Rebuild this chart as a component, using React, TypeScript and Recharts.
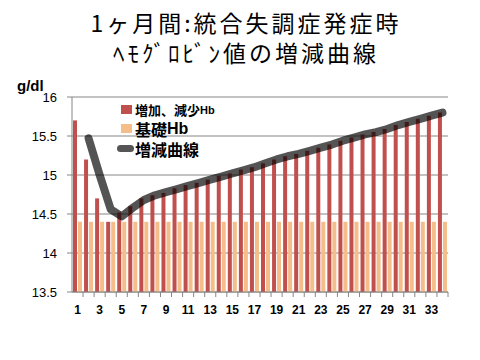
import { Bar, CartesianGrid, ComposedChart, Legend, Line, XAxis, YAxis } from 'recharts';

const days = Array.from({ length: 34 }, (_, i) => String(i + 1));

// 増加、減少Hb
const changeHb = [
  15.7, 15.2, 14.7, 14.4, 14.52, 14.6, 14.7, 14.74, 14.77, 14.83, 14.87, 14.9, 14.94, 14.99, 15.02, 15.07, 15.1,
  15.15, 15.2, 15.24, 15.27, 15.31, 15.35, 15.39, 15.44, 15.48, 15.52, 15.55, 15.59, 15.64, 15.68, 15.72, 15.76, 15.8,
];

// 基礎Hb
const baseHb = days.map(() => 14.4);

// 増減曲線
const curve: Array<number | null> = [
  null, 15.47, 15.0, 14.56, 14.47, 14.58, 14.68, 14.74, 14.78, 14.82, 14.86, 14.9, 14.94, 14.98, 15.02, 15.06, 15.1,
  15.15, 15.2, 15.24, 15.27, 15.31, 15.35, 15.39, 15.44, 15.48, 15.52, 15.55, 15.59, 15.64, 15.68, 15.72, 15.76, 15.8,
];

const yTicks = [13.5, 14, 14.5, 15, 15.5, 16];

const data = days.map((day, i) => ({ day, change: changeHb[i], base: baseHb[i], curve: curve[i] }));

const W = 480;
const H = 360;
const X_H = 30;
const M = { top: 97, right: 32, bottom: 68 - X_H, left: 0 };
const Y_W = 72;
const STEP = (W - M.right - M.left - Y_W) / days.length;

const RED = '#C0504D';
const ORANGE = '#F5BD8A';
const GRID = '#868686';
const CJK = '"Noto Sans CJK JP", sans-serif';
const LATIN = '"Liberation Sans", Arial, sans-serif';

const DayTick = (props: any) => {
  const { x, y, payload, index } = props;
  return (
    <g>
      <line x1={x + STEP / 2} x2={x + STEP / 2} y1={y} y2={y + 5} stroke={GRID} />
      {index % 2 === 0 && (
        <text x={x} y={y + 22} textAnchor="middle" fontSize={12} fontWeight="bold" fontFamily={LATIN} fill="#000">
          {payload.value}
        </text>
      )}
    </g>
  );
};

const LegendBox = () => (
  <div style={{ fontFamily: CJK, fontWeight: 'bold', color: '#000', lineHeight: 1, textAlign: 'left' }}>
    <div style={{ display: 'flex', alignItems: 'center', height: 14 }}>
      <span style={{ width: 11, height: 9, background: RED, marginLeft: 4, marginRight: 3 }} />
      <span style={{ fontSize: 13 }}>増加、減少</span>
      <span style={{ fontSize: 11, fontFamily: LATIN, marginTop: 3 }}>Hb</span>
    </div>
    <div style={{ display: 'flex', alignItems: 'center', height: 17, marginTop: 4 }}>
      <span style={{ width: 11, height: 9, background: ORANGE, marginLeft: 4, marginRight: 3 }} />
      <span style={{ fontSize: 16 }}>基礎</span>
      <span style={{ fontSize: 16, fontFamily: LATIN }}>Hb</span>
    </div>
    <div style={{ display: 'flex', alignItems: 'center', height: 17, marginTop: 3 }}>
      <span style={{ width: 17, height: 7, borderRadius: 4, background: '#555', marginRight: 1 }} />
      <span style={{ fontSize: 16 }}>増減曲線</span>
    </div>
  </div>
);

export default function App() {
  return (
    <div style={{ position: 'absolute', left: 0, top: 0, width: W, height: H, background: '#fff' }}>
      <div
        style={{
          position: 'absolute',
          left: 0,
          top: 7,
          width: W,
          paddingLeft: 12,
          boxSizing: 'border-box',
          textAlign: 'center',
          fontFamily: CJK,
          fontSize: 23,
          letterSpacing: 3,
          lineHeight: '30px',
          color: '#000',
        }}
      >
        <div>1ヶ月間:統合失調症発症時</div>
        <div>ﾍﾓｸﾞﾛﾋﾞﾝ値の増減曲線</div>
      </div>
      <ComposedChart width={W} height={H} data={data} margin={M} barSize={4} barGap={1}>
        <CartesianGrid vertical={false} stroke={GRID} />
        <XAxis
          dataKey="day"
          interval={0}
          tickLine={false}
          tickSize={0}
          tickMargin={0}
          stroke={GRID}
          tick={<DayTick />}
          height={X_H}
        />
        <YAxis
          domain={[13.5, 16]}
          ticks={yTicks}
          width={Y_W}
          stroke={GRID}
          tickSize={5}
          tickMargin={10}
          tick={{ fontSize: 13, fill: '#000', fontFamily: LATIN }}
          label={{
            value: 'g/dl',
            position: 'insideTopLeft',
            dx: 12,
            dy: -22,
            style: { fontSize: 15, fontWeight: 'bold', fill: '#000', fontFamily: LATIN },
          }}
        />
        <Legend
          verticalAlign="middle"
          align="center"
          layout="vertical"
          content={<LegendBox />}
          wrapperStyle={{ left: 117, top: 102, width: 130 }}
        />
        <Bar dataKey="change" fill={RED} isAnimationActive={false} />
        <Bar dataKey="base" fill={ORANGE} isAnimationActive={false} />
        <Line
          type="linear"
          dataKey="curve"
          stroke="#000"
          strokeOpacity={0.67}
          strokeWidth={8}
          strokeLinecap="round"
          strokeLinejoin="round"
          dot={false}
          activeDot={false}
          isAnimationActive={false}
        />
      </ComposedChart>
    </div>
  );
}
